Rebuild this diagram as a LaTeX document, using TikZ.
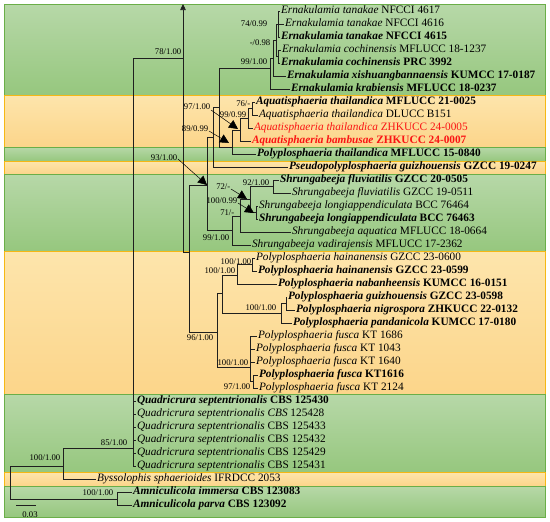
\documentclass[tikz,border=0pt]{standalone}
\usepackage{fontspec}
\setmainfont{Liberation Serif}
\usetikzlibrary{arrows.meta}
\definecolor{gtop}{RGB}{183,216,168}
\definecolor{gbot}{RGB}{150,199,126}
\definecolor{gline}{RGB}{106,174,72}
\definecolor{otop}{RGB}{253,229,172}
\definecolor{obot}{RGB}{252,213,138}
\definecolor{oline}{RGB}{245,184,20}
\definecolor{txred}{RGB}{250,20,20}
\newcommand\tx[2]{\textit{#1} #2}
\newcommand\txb[2]{\textbf{\textit{#1} #2}}
\begin{document}
\begin{tikzpicture}[x=1pt,y=-1pt,
  leaf/.style={anchor=west, inner sep=0.8pt, font=\fontsize{11.3}{12}\selectfont, text height=7.8pt, text depth=2.5pt},
  lbl/.style={anchor=east, inner sep=0.5pt, font=\fontsize{8.7}{10}\selectfont},
  br/.style={draw=black!88, line width=0.65pt},
  ptr/.style={draw=black, line width=0.5pt, -{Triangle[length=9pt,width=9pt]}},
  gband/.style={draw=gline, line width=0.9pt, top color=gtop, bottom color=gbot},
  oband/.style={draw=oline, line width=0.9pt, top color=otop, bottom color=obot}]
\useasboundingbox (0,0) rectangle (550,522);
% bands
\path[gband] (4,4) rectangle (545,95);
\path[oband] (4,95) rectangle (545,147);
\path[gband] (4,147) rectangle (545,161);
\path[oband] (4,161) rectangle (545,174);
\path[gband] (4,174) rectangle (545,251);
\path[oband] (4,251) rectangle (545,394);
\path[gband] (4,394) rectangle (545,472);
\path[oband] (4,472) rectangle (545,486);
\path[gband] (4,486) rectangle (545,517);
% leaves
\node[leaf] (l0) at (280,11) {\tx{Ernakulamia tanakae}{NFCCI 4617}};
\node[leaf] (l1) at (284,24) {\tx{Ernakulamia tanakae}{NFCCI 4616}};
\node[leaf] (l2) at (280,37) {\txb{Ernakulamia tanakae}{NFCCI 4615}};
\node[leaf] (l3) at (281,50) {\tx{Ernakulamia cochinensis}{MFLUCC 18-1237}};
\node[leaf] (l4) at (280,63) {\txb{Ernakulamia cochinensis}{PRC 3992}};
\node[leaf] (l5) at (286,76) {\txb{Ernakulamia xishuangbannaensis}{KUMCC 17-0187}};
\node[leaf] (l6) at (290,89) {\txb{Ernakulamia krabiensis}{MFLUCC 18-0237}};
\node[leaf] (l7) at (255,102) {\txb{Aquatisphaeria thailandica}{MFLUCC 21-0025}};
\node[leaf] (l8) at (258,115) {\tx{Aquatisphaeria thailandica}{DLUCC B151}};
\node[leaf,text=txred] (l9) at (253,128) {\tx{Aquatisphaeria thailandica}{ZHKUCC 24-0005}};
\node[leaf,text=txred] (l10) at (251,141) {\txb{Aquatisphaeria bambusae}{ZHKUCC 24-0007}};
\node[leaf] (l11) at (256,154) {\txb{Polyplosphaeria thailandica}{MFLUCC 15-0840}};
\node[leaf] (l12) at (288,167) {\txb{Pseudopolyplosphaeria guizhouensis}{GZCC 19-0247}};
\node[leaf] (l13) at (279,180) {\txb{Shrungabeeja fluviatilis}{GZCC 20-0505}};
\node[leaf] (l14) at (291,193) {\tx{Shrungabeeja fluviatilis}{GZCC 19-0511}};
\node[leaf] (l15) at (258,206) {\tx{Shrungabeeja longiappendiculata}{BCC 76464}};
\node[leaf] (l16) at (258,219) {\txb{Shrungabeeja longiappendiculata}{BCC 76463}};
\node[leaf] (l17) at (291,232) {\tx{Shrungabeeja aquatica}{MFLUCC 18-0664}};
\node[leaf] (l18) at (251,245) {\tx{Shrungabeeja vadirajensis}{MFLUCC 17-2362}};
\node[leaf] (l19) at (255,258) {\tx{Polyplosphaeria hainanensis}{GZCC 23-0600}};
\node[leaf] (l20) at (257,271) {\txb{Polyplosphaeria hainanensis}{GZCC 23-0599}};
\node[leaf] (l21) at (277,284) {\txb{Polyplosphaeria nabanheensis}{KUMCC 16-0151}};
\node[leaf] (l22) at (287,297) {\txb{Polyplosphaeria guizhouensis}{GZCC 23-0598}};
\node[leaf] (l23) at (295,310) {\txb{Polyplosphaeria nigrospora}{ZHKUCC 22-0132}};
\node[leaf] (l24) at (292,323) {\txb{Polyplosphaeria pandanicola}{KUMCC 17-0180}};
\node[leaf] (l25) at (257,336) {\tx{Polyplosphaeria fusca}{KT 1686}};
\node[leaf] (l26) at (255,349) {\tx{Polyplosphaeria fusca}{KT 1043}};
\node[leaf] (l27) at (255,362) {\tx{Polyplosphaeria fusca}{KT 1640}};
\node[leaf] (l28) at (258,375) {\txb{Polyplosphaeria fusca}{KT1616}};
\node[leaf] (l29) at (258,388) {\tx{Polyplosphaeria fusca}{KT 2124}};
\node[leaf] (l30) at (136,401) {\txb{Quadricrura septentrionalis}{CBS 125430}};
\node[leaf] (l31) at (136,414) {\textit{Quadricrura septentrionalis CBS} 125428};
\node[leaf] (l32) at (136,427) {\tx{Quadricrura septentrionalis}{CBS 125433}};
\node[leaf] (l33) at (136,440) {\tx{Quadricrura septentrionalis}{CBS 125432}};
\node[leaf] (l34) at (136,453) {\tx{Quadricrura septentrionalis}{CBS 125429}};
\node[leaf] (l35) at (136,466) {\tx{Quadricrura septentrionalis}{CBS 125431}};
\node[leaf] (l36) at (96,479) {\tx{Byssolophis sphaerioides}{IFRDCC 2053}};
\node[leaf] (l37) at (132,492) {\txb{Amniculicola immersa}{CBS 123083}};
\node[leaf] (l38) at (132,505) {\txb{Amniculicola parva}{CBS 123092}};
% internal nodes
\coordinate (T) at (278,24);
\coordinate (C) at (278,56.5);
\coordinate (TC) at (276,40);
\coordinate (TCX) at (273,58);
\coordinate (E) at (270,68);
\coordinate (A1) at (252,108.5);
\coordinate (A2) at (248,118.5);
\coordinate (A3) at (240,130);
\coordinate (A4) at (232,147);
\coordinate (Y) at (219,107);
\coordinate (X) at (213,137);
\coordinate (F92) at (273,186.5);
\coordinate (L) at (256,212.5);
\coordinate (S72) at (250,199.5);
\coordinate (S71) at (240,216);
\coordinate (S99) at (232,230);
\coordinate (N4) at (207,185);
\coordinate (H) at (252,264.5);
\coordinate (HN) at (237,275);
\coordinate (GN) at (286,303.5);
\coordinate (GNP) at (281,313);
\coordinate (P222) at (222,293);
\coordinate (F97) at (253,381.5);
\coordinate (Fus) at (250,367);
\coordinate (P) at (217,332);
\coordinate (N5) at (189,252);
\coordinate (N3) at (183,58);
\coordinate (top) at (183,4);
\coordinate (N2) at (133,448);
\coordinate (N1) at (63,466);
\coordinate (Am) at (117,499);
\coordinate (R) at (10,482);
% branches
\draw[br] (T) |- (l0.west) (T) -- (l1.west) (T) |- (l2.west);
\draw[br] (C) |- (l3.west) (C) |- (l4.west);
\draw[br] (TC) |- (T) (TC) |- (C);
\draw[br] (TCX) |- (TC) (TCX) |- (l5.west);
\draw[br] (E) |- (TCX) (E) |- (l6.west);
\draw[br] (A1) |- (l7.west) (A1) |- (l8.west);
\draw[br] (A2) |- (A1) (A2) |- (l9.west);
\draw[br] (A3) |- (A2) (A3) |- (l10.west);
\draw[br] (A4) |- (A3) (A4) |- (l11.west);
\draw[br] (Y) |- (E) (Y) |- (A4);
\draw[br] (X) |- (Y) (X) |- (l12.west);
\draw[br] (F92) |- (l13.west) (F92) |- (l14.west);
\draw[br] (L) |- (l15.west) (L) |- (l16.west);
\draw[br] (S72) |- (F92) (S72) |- (L);
\draw[br] (S71) |- (S72) (S71) |- (l17.west);
\draw[br] (S99) |- (S71) (S99) |- (l18.west);
\draw[br] (N4) |- (X) (N4) |- (S99);
\draw[br] (H) |- (l19.west) (H) |- (l20.west);
\draw[br] (HN) |- (H) (HN) |- (l21.west);
\draw[br] (GN) |- (l22.west) (GN) |- (l23.west);
\draw[br] (GNP) |- (GN) (GNP) |- (l24.west);
\draw[br] (P222) |- (HN) (P222) |- (GNP);
\draw[br] (F97) |- (l28.west) (F97) |- (l29.west);
\draw[br] (Fus) |- (l25.west) (Fus) |- (l26.west) (Fus) |- (l27.west) (Fus) |- (F97);
\draw[br] (P) |- (P222) (P) |- (Fus);
\draw[br] (N5) |- (N4) (N5) |- (P);
\draw[br] (N3) |- (N5);
\draw[br,-{Triangle[length=6pt,width=5.5pt]}] (N3) -- (top);
\draw[br] (N2) |- (N3);
\foreach \i in {30,...,35} {\draw[br] (N2) |- (l\i.west);}
\draw[br] (N1) |- (N2) (N1) |- (l36.west);
\draw[br] (Am) |- (l37.west) (Am) |- (l38.west);
\draw[br] (R) |- (N1) (R) |- (Am);
% support labels
\node[lbl] (s78) at (182,52) {78/1.00};
\node[lbl] (s74) at (268,24) {74/0.99};
\node[lbl] (s098) at (271,43) {-/0.98};
\node[lbl] (s99e) at (268,62) {99/1.00};
\node[lbl] (s97) at (211,107) {97/1.00};
\node[lbl] (s76) at (251,104) {76/-};
\node[lbl] (s99a) at (247,115) {99/0.99};
\node[lbl] (s89) at (209,129) {89/0.99};
\node[lbl] (s93) at (178,158) {93/1.00};
\node[lbl] (s72) at (231,187) {72/-};
\node[lbl] (s92) at (270,183) {92/1.00};
\node[lbl] (s100s) at (238,201) {100/0.99};
\node[lbl] (s71) at (235,213) {71/-};
\node[lbl] (s99s) at (230,238) {99/1.00};
\node[lbl] (s100h) at (252,262) {100/1.00};
\node[lbl] (s100hn) at (236,271) {100/1.00};
\node[lbl] (s100g) at (277,308) {100/1.00};
\node[lbl] (s96) at (214,338) {96/1.00};
\node[lbl] (s100f) at (249,363) {100/1.00};
\node[lbl] (s97f) at (251,387) {97/1.00};
\node[lbl] (s85) at (128,443) {85/1.00};
\node[lbl] (s100r) at (61,458) {100/1.00};
\node[lbl] (s100am) at (114,493) {100/1.00};
% pointer arrows
\draw[ptr] (s97.east) ++(0,3) -- (238,129);
\draw[ptr] (s89.east) ++(0,2) -- (229,143);
\draw[ptr] (s93.east) ++(0,1) -- (N4);
\draw[ptr] (s72.east) ++(0,2) -- (247,199);
\draw[ptr] (s100s.east) ++(0,2) -- (254,213);
% scale bar
\coordinate (sb1) at (16,505);
\coordinate (sb2) at (36,505);
\draw[br] (sb1) -- (sb2);
\node[lbl,anchor=center] (sbl) at (30,515) {0.03};
\end{tikzpicture}
\end{document}
